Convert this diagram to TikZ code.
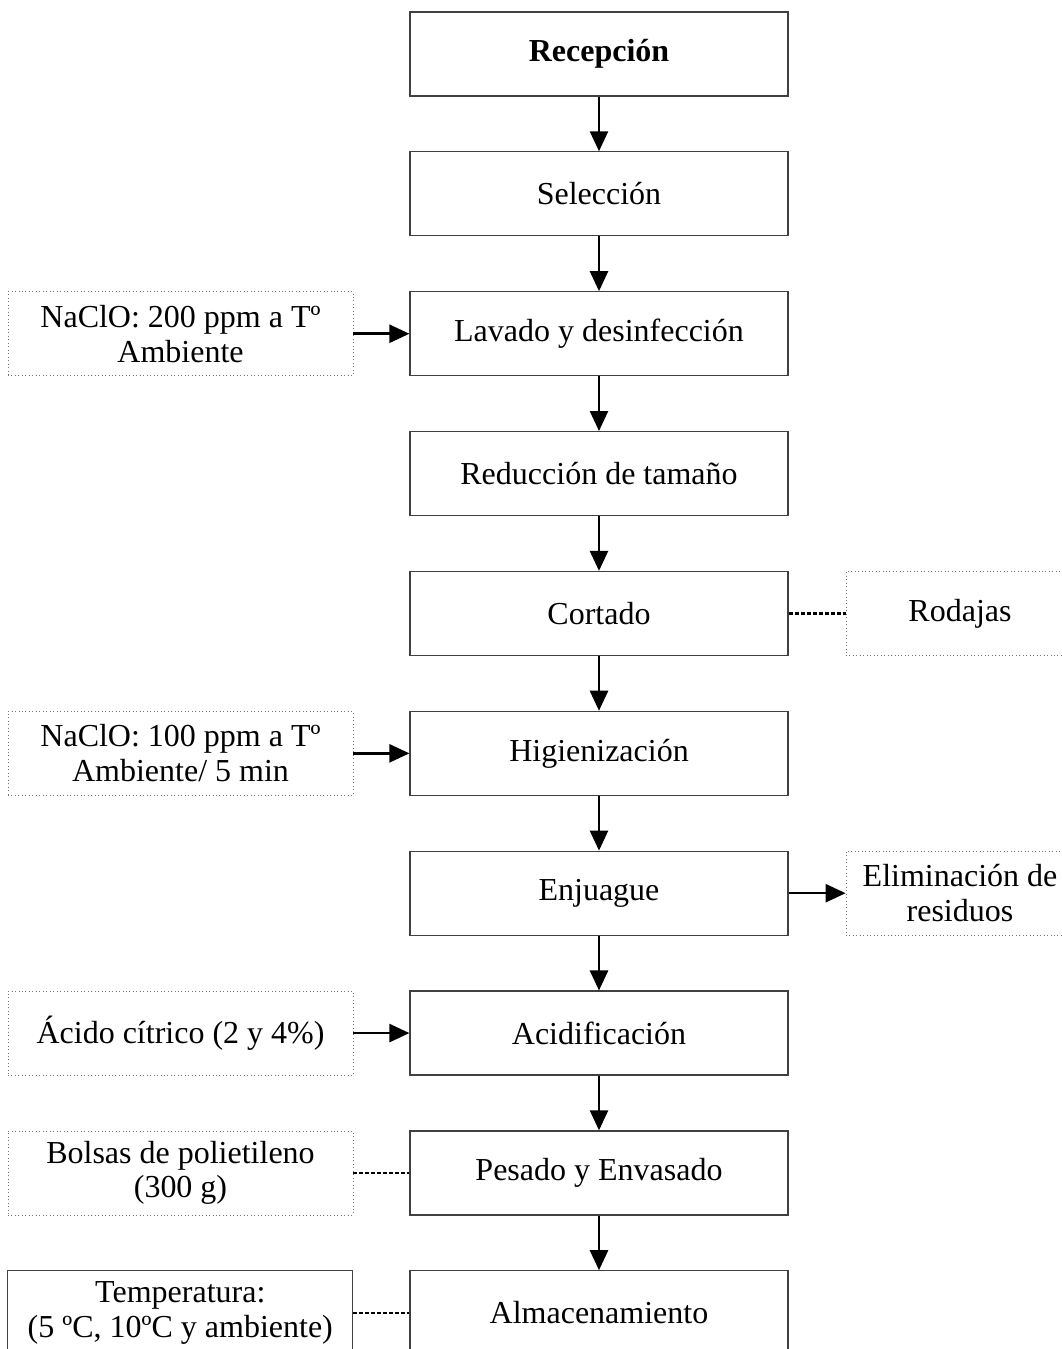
\documentclass[tikz,border=0pt]{standalone}
\usepackage{fontspec}
\setmainfont{Liberation Serif}
\usetikzlibrary{arrows.meta,positioning}
\tikzset{
  paso/.style = {rectangle, draw=black!75, line width=0.9pt, align=center,
    minimum width=283.5pt, minimum height=63pt, inner sep=0pt,
    font=\fontsize{24}{26}\selectfont},% etapa del proceso
  entrada/.style = {rectangle, draw=black!55, dotted, line width=0.6pt,
    align=center, minimum width=258.75pt, minimum height=63pt, inner sep=0pt,
    font=\fontsize{24}{26}\selectfont},% insumo a la izquierda
  salida/.style = {entrada, minimum width=171pt},% resultado a la derecha
  flecha/.style = {line width=1.9pt, -{Triangle[length=15pt,width=13.5pt]}},
  enlace/.style = {line width=1.7pt, dash pattern=on 3pt off 1.5pt}
}

\begin{document}
\begin{tikzpicture}[node distance=41pt]
\useasboundingbox (0,0) rectangle (795.75pt,-1011.75pt);
\node [paso] (rec) at (449.25pt,-40.5pt) {\textbf{Recepción}};
\node [paso, below=of rec] (sel) {Selección};
\node [paso, below=of sel] (lav) {Lavado y desinfección};
\node [paso, below=of lav] (red) {Reducción de tamaño};
\node [paso, below=of red] (cor) {Cortado};
\node [paso, below=of cor] (hig) {Higienización};
\node [paso, below=of hig] (enj) {Enjuague};
\node [paso, below=of enj] (aci) {Acidificación};
\node [paso, below=of aci] (pes) {Pesado y Envasado};
\node [paso, below=of pes] (alm) {Almacenamiento};
% entradas
\node [entrada, left=42pt of lav] (cloro1) {NaClO: 200 ppm a Tº\\Ambiente};
\node [entrada, left=42pt of hig] (cloro2) {NaClO: 100 ppm a Tº\\Ambiente/ 5 min};
\node [entrada, left=42pt of aci] (acido) {Ácido cítrico (2 y 4\%)};
\node [entrada, left=42pt of pes] (bolsa) {Bolsas de polietileno\\(300 g)};
\node [entrada, draw=black!75, solid, line width=0.9pt, left=42pt of alm]
  (temp) {Temperatura:\\(5 ºC, 10ºC y ambiente)};
% salidas
\node [salida, right=42.75pt of cor] (rod) {Rodajas};
\node [salida, right=42.75pt of enj] (eli) {Eliminación de\\residuos};

\foreach \a/\b in {rec/sel,sel/lav,lav/red,red/cor,cor/hig,hig/enj,enj/aci,
  aci/pes,pes/alm}
  \draw [flecha] (\a) -- (\b);
\draw [flecha] (cloro1) -- (lav);
\draw [flecha] (cloro2) -- (hig);
\draw [flecha] (acido) -- (aci);
\draw [flecha] (enj) -- (eli);
\draw [enlace] (cor) -- (rod);
\draw [enlace] (bolsa) -- (pes);
\draw [enlace] (temp) -- (alm);
\end{tikzpicture}
\end{document}
